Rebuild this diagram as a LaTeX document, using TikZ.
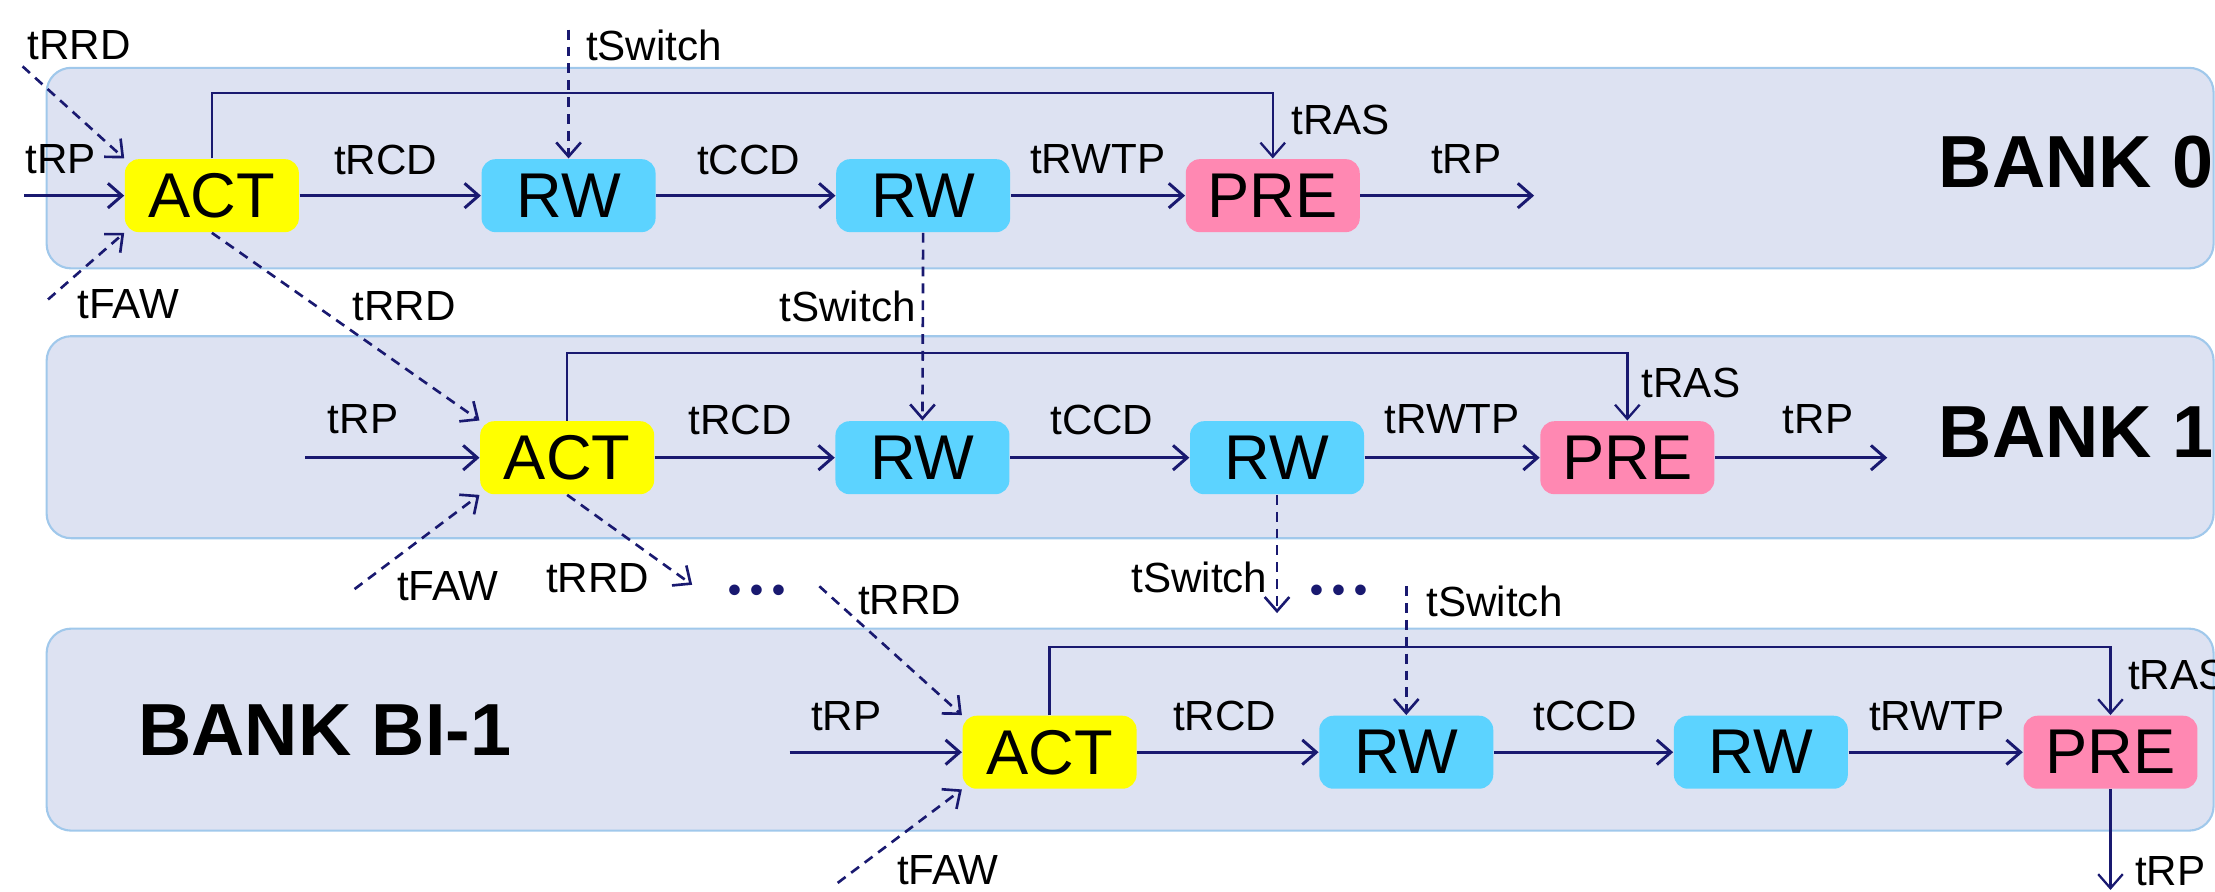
\documentclass[tikz,border=0pt]{standalone}
\usepackage{fontspec}
\setmainfont{Liberation Sans}
\usepackage{xcolor}
\usepackage{tikz}
\usetikzlibrary{arrows.meta, calc}

\definecolor{navy}{RGB}{25,25,112}
\definecolor{bandfill}{RGB}{221,226,242}
\definecolor{bandline}{RGB}{160,200,235}
\definecolor{actyellow}{RGB}{255,255,0}
\definecolor{rwblue}{RGB}{92,211,255}
\definecolor{prepink}{RGB}{255,136,178}

\begin{document}
\begin{tikzpicture}[x=0.014126cm, y=-0.014126cm,
  band/.style={fill=bandfill, draw=bandline, line width=0.6pt, rounded corners=7pt},
  cmd/.style={rounded corners=4pt, minimum width=1.74cm, minimum height=0.73cm, inner sep=0pt, font=\fontsize{18}{20}\selectfont},
  act/.style={cmd, fill=actyellow},
  rw/.style={cmd, fill=rwblue},
  pre/.style={cmd, fill=prepink},
  lbl/.style={font=\fontsize{12}{14}\selectfont, inner sep=0pt},
  bank/.style={font=\fontsize{21}{24}\selectfont\bfseries, inner sep=0pt},
  dots/.style={text=navy, font=\fontsize{10.5}{12}\selectfont\bfseries, inner sep=0pt},
  arr/.style={navy, line width=0.85pt, -{Straight Barb[length=4pt,width=7pt]}},
  ras/.style={navy, line width=0.65pt, -{Straight Barb[length=4pt,width=7pt]}},
  dsh/.style={navy, line width=0.75pt, dash pattern=on 2.8pt off 2pt, -{Straight Barb[length=4pt,width=7pt]}}
]
  \useasboundingbox (0,0) rectangle (1568,631);
  \clip (0,0) rectangle (1568,631);

  % Bank bands
  \draw[band] (33,48) rectangle (1567,190);
  \draw[band] (33,238) rectangle (1567,381);
  \draw[band] (33,445) rectangle (1567,588);

  % Bank 0
  \node[act] (act0) at (150,138.5) {ACT};
  \node[rw] (rw0a) at (402.5,138.5) {RW};
  \node[rw] (rw0b) at (653.5,138.5) {RW};
  \node[pre] (pre0) at (901,138.5) {PRE};
  \node[bank, anchor=west] (bank0) at (1372,115) {BANK 0};

  \coordinate (rp0in) at (17,138.5);
  \coordinate (rp0out) at (1086,138.5);
  \coordinate (ras0) at (901,66);
  \coordinate (rrd0in) at (16,47);
  \coordinate (faw0in) at (34,212);
  \coordinate (sw0in) at (402.5,21);

  \draw[arr] (rp0in) -- (act0);
  \draw[arr] (act0) -- (rw0a);
  \draw[arr] (rw0a) -- (rw0b);
  \draw[arr] (rw0b) -- (pre0);
  \draw[arr] (pre0) -- (rp0out);
  \draw[ras] (act0.north) |- (ras0) -- (pre0.north);
  \draw[dsh] (rrd0in) -- (act0.north west);
  \draw[dsh] (faw0in) -- (act0.south west);
  \draw[dsh] (sw0in) -- (rw0a.north);

  % Labels bank 0
  \node[lbl] (l0rrd) at (56,32) {tRRD};
  \node[lbl] (l0sw) at (463,32) {tSwitch};
  \node[lbl] (l0rp) at (43,113) {tRP};
  \node[lbl] (l0rcd) at (273,113) {tRCD};
  \node[lbl] (l0ccd) at (530,113) {tCCD};
  \node[lbl] (l0rwtp) at (777,113) {tRWTP};
  \node[lbl] (l0rp2) at (1038,113) {tRP};
  \node[lbl] (l0ras) at (949,85) {tRAS};
  \node[lbl] (l0faw) at (91,215) {tFAW};

  % Bank 1
  \node[act] (act1) at (401.5,324) {ACT};
  \node[rw] (rw1a) at (653,324) {RW};
  \node[rw] (rw1b) at (904,324) {RW};
  \node[pre] (pre1) at (1152,324) {PRE};
  \node[bank, anchor=west] (bank1) at (1372,306) {BANK 1};

  \coordinate (rp1in) at (216,324);
  \coordinate (rp1out) at (1336,324);
  \coordinate (ras1) at (1152,250);
  \coordinate (faw1in) at (251,417);
  \coordinate (rrd1out) at (490,414);
  \coordinate (sw1out) at (904,434);

  \draw[arr] (rp1in) -- (act1);
  \draw[arr] (act1) -- (rw1a);
  \draw[arr] (rw1a) -- (rw1b);
  \draw[arr] (rw1b) -- (pre1);
  \draw[arr] (pre1) -- (rp1out);
  \draw[ras] (act1.north) |- (ras1) -- (pre1.north);
  \draw[dsh] (act0.south) -- (act1.north west);
  \draw[dsh] (rw0b.south) -- (rw1a.north);
  \draw[dsh] (faw1in) -- (act1.south west);
  \draw[dsh] (act1.south) -- (rrd1out);
  \draw[dsh] (rw1b.south) -- (sw1out);

  % Labels bank 1
  \node[lbl] (l1rrd) at (286,217) {tRRD};
  \node[lbl] (l1sw) at (600,217) {tSwitch};
  \node[lbl] (l1rp) at (257,297) {tRP};
  \node[lbl] (l1rcd) at (524,297) {tRCD};
  \node[lbl] (l1ccd) at (780,297) {tCCD};
  \node[lbl] (l1rwtp) at (1028,297) {tRWTP};
  \node[lbl] (l1rp2) at (1287,297) {tRP};
  \node[lbl] (l1ras) at (1197,271) {tRAS};
  \node[lbl] (l1faw) at (317,415) {tFAW};
  \node[lbl] (l1rrd2) at (423,409) {tRRD};
  \node[lbl] (l1sw2) at (849,409) {tSwitch};
  \node[dots] (dots1) at (536,420) {•\hspace{2.6pt}•\hspace{2.6pt}•};
  \node[dots] (dots2) at (948,420) {•\hspace{2.6pt}•\hspace{2.6pt}•};

  % Bank BI-1
  \node[act] (act2) at (743,532.5) {ACT};
  \node[rw] (rw2a) at (995.5,532.5) {RW};
  \node[rw] (rw2b) at (1246.5,532.5) {RW};
  \node[pre] (pre2) at (1494,532.5) {PRE};
  \node[bank] (bank2) at (230,517) {BANK BI-1};

  \coordinate (rp2in) at (559,532.5);
  \coordinate (rp2out) at (1494,630);
  \coordinate (ras2) at (1494,458);
  \coordinate (rrd2in) at (580,415);
  \coordinate (sw2in) at (995.5,415);
  \coordinate (faw2in) at (593,625);

  \draw[arr] (rp2in) -- (act2);
  \draw[arr] (act2) -- (rw2a);
  \draw[arr] (rw2a) -- (rw2b);
  \draw[arr] (rw2b) -- (pre2);
  \draw[ras] (pre2) -- (rp2out);
  \draw[ras] (act2.north) |- (ras2) -- (pre2.north);
  \draw[dsh] (rrd2in) -- (act2.north west);
  \draw[dsh] (sw2in) -- (rw2a.north);
  \draw[dsh] (faw2in) -- (act2.south west);

  % Labels bank BI-1
  \node[lbl] (l2rrd) at (644,425) {tRRD};
  \node[lbl] (l2sw) at (1058,426) {tSwitch};
  \node[lbl] (l2rp) at (599,507) {tRP};
  \node[lbl] (l2rcd) at (867,507) {tRCD};
  \node[lbl] (l2ccd) at (1122,507) {tCCD};
  \node[lbl] (l2rwtp) at (1371,507) {tRWTP};
  \node[lbl, anchor=west] (l2ras) at (1506,478) {tRAS};
  \node[lbl, anchor=west] (l2rp2) at (1511,617) {tRP};
  \node[lbl] (l2faw) at (671,616) {tFAW};
\end{tikzpicture}
\end{document}
